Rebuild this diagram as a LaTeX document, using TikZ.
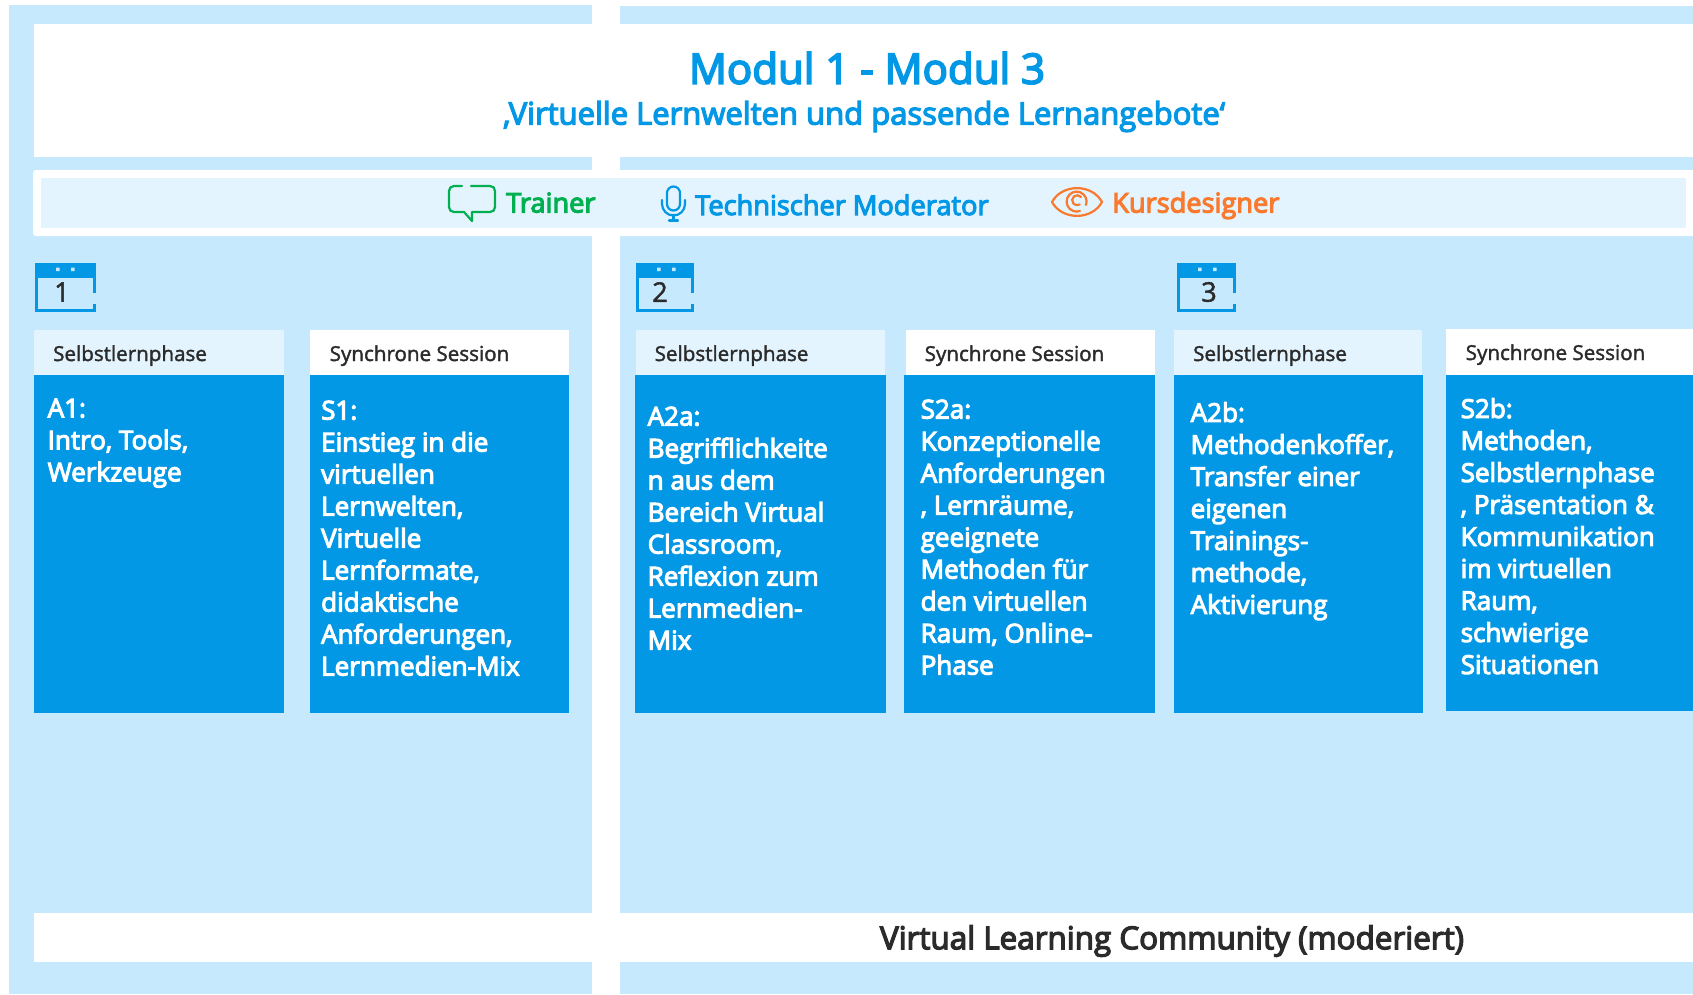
\documentclass[tikz,border=0pt]{standalone}
\usepackage{fontspec}
\setmainfont[FakeBold=4]{Open Sans}
\newfontfamily\plainfont[FakeBold=1.8]{Open Sans}

\definecolor{panelblue}{HTML}{C7E9FE}
\definecolor{lightblue}{HTML}{E3F4FE}
\definecolor{boxblue}{HTML}{0398E6}
\definecolor{trainergreen}{HTML}{00B050}
\definecolor{designorange}{HTML}{F97A2E}
\definecolor{darktext}{HTML}{2B2B2B}

\tikzset{
  panel/.style={fill=panelblue},
  bar/.style={fill=white},
  contentbox/.style={fill=boxblue},
  selfhead/.style={fill=lightblue},
  synchead/.style={fill=white},
  headlabel/.style={anchor=base west,inner sep=0pt,text=darktext,font=\plainfont\fontsize{20.6}{24}\selectfont},
  contentlabel/.style={anchor=north west,inner sep=0pt,align=left,text=white,font=\fontsize{26}{32}\selectfont},
  rolelabel/.style={anchor=base west,inner sep=0pt,font=\fontsize{27.2}{32}\selectfont},
  icon/.style={line width=2.2pt,line join=round,line cap=round},
}

\begin{document}
\begin{tikzpicture}[x=1pt,y=-1pt]
  \useasboundingbox (0,0) rectangle (1693,994);
  % panels
  \fill[panel] (9,5) rectangle (591.5,994);
  \fill[panel] (620,6) rectangle (1693,994);
  \fill[bar] (34,24) rectangle (1693,157);
  \fill[bar,rounded corners=3pt] (33,170) rectangle (1700,236);
  \fill[lightblue] (40.5,178) rectangle (1686,228);
  \fill[bar] (34,913) rectangle (1693,962);

  \node[text=boxblue,inner sep=0pt,font=\fontsize{42}{48}\selectfont] (title) at (867,68) {Modul 1 - Modul 3};
  \node[text=boxblue,inner sep=0pt,font=\fontsize{31}{36}\selectfont] (subtitle) at (864,116.5) {‚Virtuelle Lernwelten und passende Lernangebote‘};

  % roles
  \draw[icon,trainergreen] (462,186) -- (454,186) .. controls (451,186) and (449,188) .. (449,191)
    -- (449,207) .. controls (449,210) and (451,212) .. (454,212) -- (464,212) -- (472,221) -- (472,212)
    -- (490,212) .. controls (493,212) and (495,210) .. (495,207) -- (495,191)
    .. controls (495,188) and (493,186) .. (490,186) -- (471,186);
  \node[rolelabel,text=trainergreen] (trainer) at (506,212.5) {Trainer};

  \draw[icon,boxblue] (667,193) arc (180:360:6.5) -- (680,204) arc (0:180:6.5) -- cycle;
  \draw[icon,boxblue] (662,200) -- (662,204) arc (180:0:11.5) -- (685,200);
  \draw[icon,boxblue] (673.5,215) -- (673.5,220) (669,220.5) -- (678,220.5);
  \node[rolelabel,text=boxblue] (moderator) at (695,215) {Technischer Moderator};

  \draw[icon,designorange] (1052,202) .. controls (1062,183.5) and (1092,183.5) .. (1102,202)
    .. controls (1092,220.5) and (1062,220.5) .. (1052,202);
  \draw[icon,designorange] (1086,205) arc (20:-290:10);
  \draw[icon,designorange] (1081,197) arc (-40:-300:5);
  \node[rolelabel,text=designorange] (designer) at (1112,212.5) {Kursdesigner};

  % calendars
  \foreach \calname/\calx/\calw/\caldigit/\digitx in {calA/35/61/1/62, calB/636/58/2/660, calC/1177/59/3/1209} {
    \fill[boxblue] (\calx,263) rectangle ++(\calw,13);
    \draw[boxblue,line width=3pt] (\calx+\calw-1.5,293) -- (\calx+\calw-1.5,276) -- (\calx+1.5,276) -- (\calx+1.5,310.5) -- (\calx+\calw-1.5,310.5) -- (\calx+\calw-1.5,304);
    \fill[panelblue] (\calx+21,267.5) rectangle ++(3.5,3.5) (\calx+36,267.5) rectangle ++(3.5,3.5);
    \node[text=darktext,inner sep=0pt,font=\plainfont\fontsize{27}{30}\selectfont] (\calname) at (\digitx,292) {\caldigit};
  }

  % columns
  \foreach \colname/\colx/\colw/\colh/\headx/\headw/\headtop/\headstyle/\headtext/\labelx/\labely in {
    colA/34/249.5/338/34/249.5/330/selfhead/Selbstlernphase/53/361,
    colB/310/259/338/310/259/330/synchead/Synchrone Session/329.5/361,
    colC/635/251/338/636/249/330/selfhead/Selbstlernphase/654.5/361,
    colD/904/251/338/906/249/330/synchead/Synchrone Session/924.5/361,
    colE/1174/249/338/1174/248/330/selfhead/Selbstlernphase/1193/361,
    colF/1446/247/336/1446/247/329/synchead/Synchrone Session/1465.5/360} {
    \fill[\headstyle] (\headx,\headtop) rectangle (\headx+\headw,375);
    \fill[contentbox] (\colx,375) rectangle ++(\colw,\colh);
    \node[headlabel] (\colname) at (\labelx,\labely) {\headtext};
  }

  \node[contentlabel] (aeins) at (47.5,398.5) {A1:\\Intro, Tools,\\Werkzeuge};
  \node[contentlabel] (seins) at (321,400.5) {S1:\\Einstieg in die\\virtuellen\\Lernwelten,\\Virtuelle\\Lernformate,\\didaktische\\Anforderungen,\\Lernmedien-Mix};
  \node[contentlabel] (azwei) at (647.5,406.5) {A2a:\\Begrifflichkeite\\n aus dem\\Bereich Virtual\\Classroom,\\Reflexion zum\\Lernmedien-\\Mix};
  \node[contentlabel] (szwei) at (920.5,399.5) {S2a:\\Konzeptionelle\\Anforderungen\\, Lernräume,\\geeignete\\Methoden für\\den virtuellen\\Raum, Online-\\Phase};
  \node[contentlabel] (adrei) at (1190.5,402) {A2b:\\Methodenkoffer,\\Transfer einer\\eigenen\\Trainings-\\methode,\\Aktivierung};
  \node[contentlabel] (sdrei) at (1460.5,398) {S2b:\\Methoden,\\Selbstlernphase\\, Präsentation \&\\Kommunikation\\im virtuellen\\Raum,\\schwierige\\Situationen};

  \node[text=darktext,inner sep=0pt,font=\fontsize{31.4}{36}\selectfont] (community) at (1172,941) {Virtual Learning Community (moderiert)};
\end{tikzpicture}
\end{document}
